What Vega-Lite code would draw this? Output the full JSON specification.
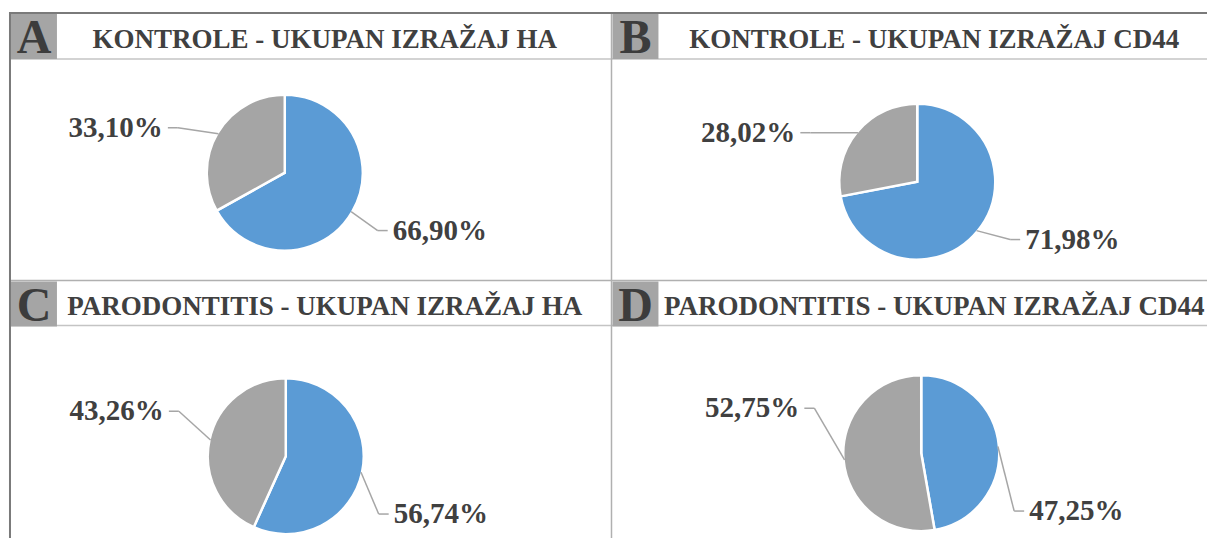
{
  "$schema": "https://vega.github.io/schema/vega-lite/v6.json",
  "width": 1208,
  "height": 539,
  "autosize": {"type": "fit", "contains": "padding"},
  "padding": 0,
  "background": "white",
  "config": {"view": {"stroke": null}},
  "datasets": {
    "slices": [
      {"panel": "A", "letter": "A", "title": "KONTROLE - UKUPAN IZRAŽAJ HA", "category": "izražen", "value": 66.90},
      {"panel": "A", "letter": "A", "title": "KONTROLE - UKUPAN IZRAŽAJ HA", "category": "neizražen", "value": 33.10},
      {"panel": "B", "letter": "B", "title": "KONTROLE - UKUPAN IZRAŽAJ CD44", "category": "izražen", "value": 71.98},
      {"panel": "B", "letter": "B", "title": "KONTROLE - UKUPAN IZRAŽAJ CD44", "category": "neizražen", "value": 28.02},
      {"panel": "C", "letter": "C", "title": "PARODONTITIS - UKUPAN IZRAŽAJ HA", "category": "izražen", "value": 56.74},
      {"panel": "C", "letter": "C", "title": "PARODONTITIS - UKUPAN IZRAŽAJ HA", "category": "neizražen", "value": 43.26},
      {"panel": "D", "letter": "D", "title": "PARODONTITIS - UKUPAN IZRAŽAJ CD44", "category": "izražen", "value": 47.25},
      {"panel": "D", "letter": "D", "title": "PARODONTITIS - UKUPAN IZRAŽAJ CD44", "category": "neizražen", "value": 52.75}
    ]
  },
  "layer": [
    {
      "data": {"values": [{}]},
      "mark": {"type": "rule", "color": "#c4c4c4", "strokeWidth": 1.5},
      "encoding": {
        "x": {"datum": 10, "type": "quantitative", "scale": {"domain": [0, 1208], "nice": false, "zero": false}, "axis": null},
        "x2": {"datum": 1208},
        "y": {"datum": 59, "type": "quantitative", "scale": {"domain": [0, 539], "nice": false, "zero": false, "reverse": true}, "axis": null}
      }
    },
    {
      "data": {"values": [{}]},
      "mark": {"type": "rule", "color": "#c4c4c4", "strokeWidth": 1.5},
      "encoding": {
        "x": {"datum": 10, "type": "quantitative", "scale": {"domain": [0, 1208], "nice": false, "zero": false}, "axis": null},
        "x2": {"datum": 1208},
        "y": {"datum": 326, "type": "quantitative", "scale": {"domain": [0, 539], "nice": false, "zero": false, "reverse": true}, "axis": null}
      }
    },
    {
      "data": {"values": [{}]},
      "mark": {"type": "rule", "color": "#b0b0b0", "strokeWidth": 1.5},
      "encoding": {
        "x": {"datum": 10, "type": "quantitative", "scale": {"domain": [0, 1208], "nice": false, "zero": false}, "axis": null},
        "x2": {"datum": 1208},
        "y": {"datum": 281, "type": "quantitative", "scale": {"domain": [0, 539], "nice": false, "zero": false, "reverse": true}, "axis": null}
      }
    },
    {
      "data": {"values": [{}]},
      "mark": {"type": "rule", "color": "#b0b0b0", "strokeWidth": 1.5},
      "encoding": {
        "x": {"datum": 612, "type": "quantitative", "scale": {"domain": [0, 1208], "nice": false, "zero": false}, "axis": null},
        "y": {"datum": 13, "type": "quantitative", "scale": {"domain": [0, 539], "nice": false, "zero": false, "reverse": true}, "axis": null},
        "y2": {"datum": 539}
      }
    },
    {
      "data": {"values": [{}]},
      "mark": {"type": "rule", "color": "#7a7a7a", "strokeWidth": 2},
      "encoding": {
        "x": {"datum": 9, "type": "quantitative", "scale": {"domain": [0, 1208], "nice": false, "zero": false}, "axis": null},
        "x2": {"datum": 1208},
        "y": {"datum": 13, "type": "quantitative", "scale": {"domain": [0, 539], "nice": false, "zero": false, "reverse": true}, "axis": null}
      }
    },
    {
      "data": {"values": [{}]},
      "mark": {"type": "rule", "color": "#7a7a7a", "strokeWidth": 2},
      "encoding": {
        "x": {"datum": 10, "type": "quantitative", "scale": {"domain": [0, 1208], "nice": false, "zero": false}, "axis": null},
        "y": {"datum": 12, "type": "quantitative", "scale": {"domain": [0, 539], "nice": false, "zero": false, "reverse": true}, "axis": null},
        "y2": {"datum": 539}
      }
    },
    {
      "data": {"name": "slices"},
      "transform": [
        {"calculate": "datum.panel=='B'||datum.panel=='D'?1:0", "as": "col"},
        {"calculate": "datum.panel=='C'||datum.panel=='D'?1:0", "as": "row"},
        {"calculate": "datum.panel=='A'?285:datum.panel=='B'?918:datum.panel=='C'?286:922", "as": "cx"},
        {"calculate": "datum.panel=='A'?173:datum.panel=='B'?182:datum.panel=='C'?457:454", "as": "cy"},
        {"window": [{"op": "sum", "field": "value", "as": "cum"}], "groupby": ["panel"], "sort": [{"field": "category", "order": "ascending"}], "frame": [null, 0]},
        {"calculate": "datum.cum-datum.value", "as": "start"},
        {"calculate": "(datum.cum-datum.value/2)*PI/50", "as": "mid"},
        {"calculate": "datum.cx+77*sin(datum.mid)", "as": "ex"},
        {"calculate": "datum.cy-77*cos(datum.mid)", "as": "ey"},
        {"calculate": "sin(datum.mid)>=0?1:-1", "as": "sgn"},
        {"calculate": "datum.sgn>0?max(datum.ey,datum.cy+58):min(datum.ey,datum.cy-45)", "as": "ly"},
        {"calculate": "datum.sgn>0?datum.cx+108:datum.cx-122", "as": "lx"},
        {"calculate": "datum.lx-datum.sgn*5", "as": "tx"},
        {"calculate": "datum.lx-datum.sgn*15", "as": "kx"},
        {"calculate": "replace(format(datum.value,'.2f'),'.',',')+'%'", "as": "label"},
        {"calculate": "10+602*datum.col", "as": "x0"},
        {"calculate": "13+268*datum.row", "as": "y0"},
        {"calculate": "datum.x0+1", "as": "bx1"},
        {"calculate": "datum.x0+47", "as": "bx2"},
        {"calculate": "datum.y0+1", "as": "by1"},
        {"calculate": "datum.y0+46", "as": "by2"},
        {"calculate": "datum.x0+24", "as": "lcx"},
        {"calculate": "datum.y0+40.5", "as": "lby"},
        {"calculate": "325+610*datum.col", "as": "tcx"},
        {"calculate": "datum.y0+35", "as": "tby"}
      ],
      "layer": [
        {
          "mark": {"type": "arc", "outerRadius": 78, "stroke": "white", "strokeWidth": 2.5},
          "encoding": {
            "x": {"field": "cx", "type": "quantitative", "scale": {"domain": [0, 1208], "nice": false, "zero": false}, "axis": null},
            "y": {"field": "cy", "type": "quantitative", "scale": {"domain": [0, 539], "nice": false, "zero": false, "reverse": true}, "axis": null},
            "theta": {"field": "start", "type": "quantitative", "stack": null, "scale": {"domain": [0, 100], "range": [0, 6.283185307179586]}},
            "theta2": {"field": "cum"},
            "color": {"field": "category", "type": "nominal", "scale": {"domain": ["izražen", "neizražen"], "range": ["#5b9bd5", "#a5a5a5"]}, "legend": null}
          }
        },
        {
          "mark": {"type": "rule", "color": "#a6a6a6", "strokeWidth": 1.5},
          "encoding": {
            "x": {"field": "ex", "type": "quantitative", "scale": {"domain": [0, 1208], "nice": false, "zero": false}, "axis": null},
            "y": {"field": "ey", "type": "quantitative", "scale": {"domain": [0, 539], "nice": false, "zero": false, "reverse": true}, "axis": null},
            "x2": {"field": "kx"},
            "y2": {"field": "ly"}
          }
        },
        {
          "mark": {"type": "rule", "color": "#a6a6a6", "strokeWidth": 1.5},
          "encoding": {
            "x": {"field": "kx", "type": "quantitative", "scale": {"domain": [0, 1208], "nice": false, "zero": false}, "axis": null},
            "y": {"field": "ly", "type": "quantitative", "scale": {"domain": [0, 539], "nice": false, "zero": false, "reverse": true}, "axis": null},
            "x2": {"field": "tx"},
            "y2": {"field": "ly"}
          }
        },
        {
          "transform": [{"filter": "datum.sgn<0"}],
          "mark": {"type": "text", "align": "right", "baseline": "middle", "font": "Liberation Serif", "fontWeight": "bold", "fontSize": 29, "color": "#404040"},
          "encoding": {
            "x": {"field": "lx", "type": "quantitative", "scale": {"domain": [0, 1208], "nice": false, "zero": false}, "axis": null},
            "y": {"field": "ly", "type": "quantitative", "scale": {"domain": [0, 539], "nice": false, "zero": false, "reverse": true}, "axis": null},
            "text": {"field": "label"}
          }
        },
        {
          "transform": [{"filter": "datum.sgn>0"}],
          "mark": {"type": "text", "align": "left", "baseline": "middle", "font": "Liberation Serif", "fontWeight": "bold", "fontSize": 29, "color": "#404040"},
          "encoding": {
            "x": {"field": "lx", "type": "quantitative", "scale": {"domain": [0, 1208], "nice": false, "zero": false}, "axis": null},
            "y": {"field": "ly", "type": "quantitative", "scale": {"domain": [0, 539], "nice": false, "zero": false, "reverse": true}, "axis": null},
            "text": {"field": "label"}
          }
        },
        {
          "transform": [{"filter": "datum.category=='izražen'"}],
          "mark": {"type": "rect", "color": "#a5a5a5"},
          "encoding": {
            "x": {"field": "bx1", "type": "quantitative", "scale": {"domain": [0, 1208], "nice": false, "zero": false}, "axis": null},
            "x2": {"field": "bx2"},
            "y": {"field": "by1", "type": "quantitative", "scale": {"domain": [0, 539], "nice": false, "zero": false, "reverse": true}, "axis": null},
            "y2": {"field": "by2"}
          }
        },
        {
          "transform": [{"filter": "datum.category=='izražen'"}],
          "mark": {"type": "text", "align": "center", "baseline": "alphabetic", "font": "Liberation Serif", "fontWeight": "bold", "fontSize": 48, "color": "#3c3c3c"},
          "encoding": {
            "x": {"field": "lcx", "type": "quantitative", "scale": {"domain": [0, 1208], "nice": false, "zero": false}, "axis": null},
            "y": {"field": "lby", "type": "quantitative", "scale": {"domain": [0, 539], "nice": false, "zero": false, "reverse": true}, "axis": null},
            "text": {"field": "letter"}
          }
        },
        {
          "transform": [{"filter": "datum.category=='izražen'"}],
          "mark": {"type": "text", "align": "center", "baseline": "alphabetic", "font": "Liberation Serif", "fontWeight": "bold", "fontSize": 27, "color": "#404040"},
          "encoding": {
            "x": {"field": "tcx", "type": "quantitative", "scale": {"domain": [0, 1208], "nice": false, "zero": false}, "axis": null},
            "y": {"field": "tby", "type": "quantitative", "scale": {"domain": [0, 539], "nice": false, "zero": false, "reverse": true}, "axis": null},
            "text": {"field": "title"}
          }
        }
      ]
    }
  ]
}
